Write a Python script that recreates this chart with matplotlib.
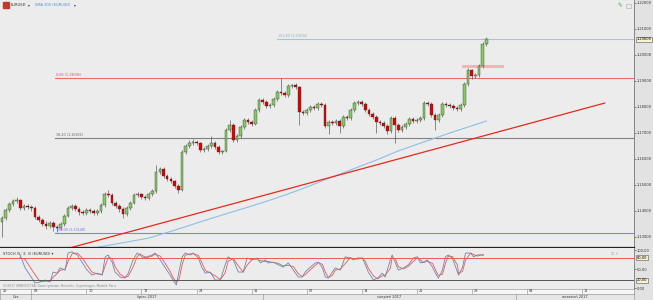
import matplotlib.pyplot as plt

# EURUSD, candles (3 per trading day), from 28 Jun 2017
first_open = 1.1358
closes = [1.1373, 1.1404, 1.1427, 1.1438, 1.1442, 1.1412, 1.1419, 1.1415, 1.1412, 1.1377,
          1.1365, 1.1350, 1.1342, 1.1354, 1.1338, 1.1335, 1.1350, 1.1381, 1.1412, 1.1419,
          1.1408, 1.1396, 1.1392, 1.1404, 1.1400, 1.1392, 1.1400, 1.1423, 1.1465, 1.1462,
          1.1431, 1.1419, 1.1408, 1.1388, 1.1412, 1.1431, 1.1462, 1.1465, 1.1454, 1.1450,
          1.1465, 1.1477, 1.1550, 1.1562, 1.1535, 1.1523, 1.1515, 1.1496, 1.1481, 1.1627,
          1.1650, 1.1661, 1.1665, 1.1661, 1.1635, 1.1638, 1.1650, 1.1661, 1.1646, 1.1627,
          1.1631, 1.1712, 1.1731, 1.1673, 1.1688, 1.1723, 1.1750, 1.1742, 1.1735, 1.1788,
          1.1827, 1.1819, 1.1804, 1.1808, 1.1831, 1.1858, 1.1854, 1.1846, 1.1881, 1.1885,
          1.1877, 1.1781, 1.1777, 1.1788, 1.1800, 1.1796, 1.1812, 1.1808, 1.1727, 1.1742,
          1.1738, 1.1746, 1.1727, 1.1762, 1.1758, 1.1788, 1.1815, 1.1819, 1.1812, 1.1788,
          1.1773, 1.1762, 1.1742, 1.1738, 1.1727, 1.1708, 1.1758, 1.1731, 1.1712, 1.1723,
          1.1735, 1.1754, 1.1746, 1.1750, 1.1758, 1.1815, 1.1812, 1.1769, 1.1750, 1.1769,
          1.1812, 1.1808, 1.1804, 1.1796, 1.1792, 1.1808, 1.1888, 1.1942, 1.1919, 1.1923,
          1.1958, 1.2042, 1.2062]
highs = [1.1380, 1.1412, 1.1436, 1.1447, 1.1452, 1.1448, 1.1428, 1.1426, 1.1423, 1.1418,
         1.1384, 1.1372, 1.1360, 1.1362, 1.1360, 1.1346, 1.1357, 1.1388, 1.1420, 1.1427,
         1.1425, 1.1414, 1.1405, 1.1411, 1.1410, 1.1407, 1.1408, 1.1430, 1.1474, 1.1480,
         1.1468, 1.1438, 1.1426, 1.1414, 1.1420, 1.1438, 1.1470, 1.1474, 1.1471, 1.1461,
         1.1472, 1.1485, 1.1578, 1.1570, 1.1568, 1.1542, 1.1530, 1.1521, 1.1503, 1.1636,
         1.1658, 1.1672, 1.1677, 1.1673, 1.1667, 1.1647, 1.1658, 1.1688, 1.1668, 1.1652,
         1.1636, 1.1720, 1.1750, 1.1738, 1.1697, 1.1731, 1.1759, 1.1758, 1.1749, 1.1796,
         1.1836, 1.1835, 1.1826, 1.1816, 1.1839, 1.1866, 1.1912, 1.1862, 1.1889, 1.1890,
         1.1893, 1.1882, 1.1789, 1.1796, 1.1808, 1.1807, 1.1820, 1.1819, 1.1814, 1.1750,
         1.1751, 1.1754, 1.1752, 1.1770, 1.1771, 1.1796, 1.1824, 1.1828, 1.1826, 1.1818,
         1.1795, 1.1780, 1.1768, 1.1750, 1.1745, 1.1733, 1.1766, 1.1764, 1.1737, 1.1731,
         1.1742, 1.1762, 1.1761, 1.1758, 1.1766, 1.1823, 1.1824, 1.1818, 1.1775, 1.1777,
         1.1820, 1.1820, 1.1815, 1.1810, 1.1803, 1.1816, 1.1897, 1.1951, 1.1948, 1.1932,
         1.1965, 1.2050, 1.2070]
lows = [1.1300, 1.1366, 1.1398, 1.1420, 1.1430, 1.1405, 1.1404, 1.1407, 1.1401, 1.1370,
        1.1356, 1.1343, 1.1331, 1.1335, 1.1322, 1.1318, 1.1328, 1.1344, 1.1376, 1.1405,
        1.1401, 1.1386, 1.1384, 1.1386, 1.1393, 1.1384, 1.1385, 1.1394, 1.1417, 1.1452,
        1.1424, 1.1410, 1.1398, 1.1372, 1.1381, 1.1405, 1.1425, 1.1454, 1.1446, 1.1441,
        1.1444, 1.1458, 1.1470, 1.1542, 1.1528, 1.1515, 1.1506, 1.1488, 1.1470, 1.1476,
        1.1618, 1.1643, 1.1653, 1.1652, 1.1626, 1.1627, 1.1631, 1.1644, 1.1638, 1.1619,
        1.1618, 1.1625, 1.1705, 1.1665, 1.1664, 1.1681, 1.1716, 1.1733, 1.1726, 1.1729,
        1.1781, 1.1811, 1.1796, 1.1797, 1.1801, 1.1824, 1.1846, 1.1838, 1.1840, 1.1872,
        1.1869, 1.1730, 1.1768, 1.1770, 1.1781, 1.1788, 1.1789, 1.1800, 1.1719, 1.1696,
        1.1730, 1.1731, 1.1700, 1.1720, 1.1750, 1.1751, 1.1782, 1.1808, 1.1804, 1.1780,
        1.1765, 1.1754, 1.1700, 1.1730, 1.1719, 1.1698, 1.1700, 1.1662, 1.1703, 1.1705,
        1.1716, 1.1728, 1.1738, 1.1739, 1.1743, 1.1751, 1.1804, 1.1761, 1.1712, 1.1743,
        1.1762, 1.1800, 1.1796, 1.1788, 1.1784, 1.1785, 1.1801, 1.1881, 1.1908, 1.1910,
        1.1915, 1.1950, 1.2035]

# SMA 200 read at some candle positions
sma_idx = [25, 33, 40, 47, 54, 61, 68, 75, 81, 88, 95, 102, 108, 115, 122, 127, 132]
sma_val = [1.1258, 1.1278, 1.1296, 1.1326, 1.1358, 1.1389, 1.1419, 1.1451, 1.1481,
           1.1520, 1.1558, 1.1596, 1.1631, 1.1666, 1.1700, 1.1723, 1.1746]

# trend line (two anchor points)
trend_idx = [18.5, 164.2]
trend_val = [1.1258, 1.1815]

fib_labels = ['161,80 (1,20604)', '0,00 (1,19096)', '38,20 (1,16821)', '100,00 (1,13140)']
fib_values = [1.20604, 1.19096, 1.16821, 1.13140]
fib_colors = ['#a9c3d3', '#a9bfe0', '#808080', '#8080ee']
fib_text_colors = ['#8fb0c4', '#e05050', '#666666', '#6c6cee']
fib_start = [75, 14.5, 14.5, 14.5]
resist_value = 1.1912
zone_idx = [125.4, 136.9]
zone_val = [1.1950, 1.1961]
last_price = 1.20600

price_ticks = [1.13, 1.14, 1.15, 1.16, 1.17, 1.18, 1.19, 1.20, 1.21, 1.22]

# Stochastic (5;3;3)
stoch_idx = [4.9, 6.3, 9.0, 10.4, 11.7, 13.1, 13.9, 15.0, 15.8, 17.2,
             18.0, 19.1, 20.5, 21.8, 23.2, 24.5, 25.9, 27.3, 28.1, 28.9,
             30.0, 30.8, 32.2, 33.5, 34.4, 35.7, 36.8, 37.6, 38.5, 39.5,
             40.9, 41.7, 43.1, 44.5, 45.8, 46.6, 47.5, 48.3, 49.1, 49.9,
             51.3, 52.1, 53.5, 54.5, 55.4, 56.7, 58.1, 59.5, 60.8, 61.6,
             63.0, 64.4, 65.7, 66.8, 68.2, 69.5, 70.4, 71.7, 72.5, 73.9,
             75.3, 76.6, 78.0, 79.4, 80.7, 81.8, 82.6, 84.0, 85.4, 86.2,
             87.3, 88.1, 88.9, 90.0, 90.8, 92.2, 93.5, 94.9, 95.7, 96.8,
             98.2, 99.0, 99.8, 101.2, 102.3, 103.6, 104.4, 105.8, 106.3, 107.2,
             108.0, 109.4, 110.7, 112.1, 113.2, 114.0, 114.8, 115.9, 117.3, 118.1,
             118.9, 120.0, 120.8, 121.6, 122.7, 124.1, 124.4, 125.5, 126.3, 127.7,
             128.5, 129.5, 130.4, 131.2]
stoch_k = [87, 53, 13, 16, 21, 16, 42, 39, 53, 47, 92, 95, 87, 68, 47, 34, 39, 34, 82, 87,
           68, 42, 29, 26, 39, 74, 92, 87, 79, 82, 87, 92, 74, 53, 34, 21, 8, 47, 82, 92,
           87, 92, 79, 53, 39, 42, 21, 21, 61, 82, 74, 42, 42, 79, 74, 79, 66, 74, 66, 68,
           61, 55, 66, 47, 29, 29, 42, 55, 66, 68, 53, 29, 26, 42, 53, 47, 82, 79, 74, 79,
           79, 61, 42, 21, 26, 39, 29, 74, 87, 66, 47, 53, 61, 79, 82, 66, 68, 74, 55, 39,
           26, 47, 82, 87, 79, 42, 34, 55, 92, 92, 82, 87, 87, 87]
stoch_d = [80, 75, 35, 17, 18, 18, 28, 38, 46, 50, 70, 90, 92, 80, 60, 42, 37, 36, 58, 80,
           78, 56, 36, 28, 31, 55, 82, 90, 84, 80, 84, 89, 84, 64, 44, 28, 15, 25, 62, 86,
           90, 90, 86, 66, 46, 40, 32, 22, 40, 70, 78, 58, 42, 60, 76, 76, 72, 70, 70, 67,
           65, 58, 60, 56, 38, 30, 35, 48, 60, 67, 62, 42, 28, 33, 47, 50, 64, 80, 77, 76,
           79, 70, 52, 32, 24, 32, 34, 52, 80, 76, 56, 50, 57, 70, 80, 74, 67, 70, 65, 48,
           33, 36, 64, 84, 83, 60, 38, 44, 74, 92, 88, 84, 87, 87]
stoch_ticks = [0, 50, 100]
stoch_levels = [80, 20]

week_idx = [8, 23, 38, 53, 68, 83, 98, 113, 128, 143, 158]
week_labels = ['03', '10', '17', '24', '31', '07', '14', '21', '28', '04', '11']
month_edges = [8, 71, 140]
month_labels = ['Cze', 'lipiec 2017', 'sierpień 2017', 'wrzesień 2017']

XMIN, XMAX = -0.55, 172.2
YMIN, YMAX = 1.12615, 1.22115
BG = '#ececec'
fs = 2.6

fig = plt.figure(figsize=(6.53, 3.0), dpi=100, facecolor='#e2e2e2')
W = 634 / 653
ax = fig.add_axes([0, 53 / 300, W, 247 / 300], facecolor=BG)
osc = fig.add_axes([0, 11 / 300, W, 41 / 300], facecolor=BG)
drow = fig.add_axes([0, 6 / 300, W, 5 / 300], facecolor='#f6f6f6')
mrow = fig.add_axes([0, 0, W, 6 / 300], facecolor='#e6e6e6')

# candles
opens = [first_open] + closes[:-1]
for i, (o, h, l, c) in enumerate(zip(opens, highs, lows, closes)):
    col = '#86c963' if c >= o else '#e30000'
    ax.vlines(i, l, h, color='#505050', lw=0.45, zorder=3)
    ax.bar(i, max(abs(c - o), 0.00012), bottom=min(o, c), width=0.72,
           color=col, edgecolor='#2a2a2a', linewidth=0.25, zorder=4)

ax.plot(sma_idx, sma_val, color='#8cc0e6', lw=0.8, zorder=2)
ax.plot(trend_idx, trend_val, color='#e8291c', lw=0.9, zorder=2)

for lab, v, c, tc, x0 in zip(fib_labels, fib_values, fib_colors, fib_text_colors, fib_start):
    ax.plot([x0, XMAX], [v, v], color=c, lw=0.8, zorder=1)
    ax.text(x0 + 0.3, v + 0.0004, lab, fontsize=2.4, color=tc, va='bottom', ha='left')
ax.plot([14.5, XMAX], [resist_value, resist_value], color='#e66a6a', lw=0.7, zorder=1)
ax.fill_between(zone_idx, zone_val[0], zone_val[1], color='#f0a0a0', alpha=0.7, lw=0, zorder=1)

ax.set_xlim(XMIN, XMAX)
ax.set_ylim(YMIN, YMAX)
ax.yaxis.tick_right()
ax.set_yticks(price_ticks)
ax.set_yticklabels([f'{v:.5f}'.replace('.', ',') for v in price_ticks])
ax.tick_params(axis='y', labelsize=fs, length=1.5, pad=0.6, width=0.4, colors='#333333')
ax.set_xticks([])
for s in ['top', 'left']:
    ax.spines[s].set_visible(False)
ax.spines['right'].set_color('#777777')
ax.spines['right'].set_linewidth(0.6)
ax.spines['bottom'].set_color('#222222')
ax.spines['bottom'].set_linewidth(0.9)
ax.text(1.004, (last_price - YMIN) / (YMAX - YMIN), f'{last_price:.5f}'.replace('.', ','),
        transform=ax.transAxes, fontsize=fs, va='center', ha='left', zorder=6,
        bbox=dict(boxstyle='square,pad=0.2', fc='#f7f3d0', ec='#555555', lw=0.4), clip_on=False)

# legend line at the top
ax.add_patch(plt.Rectangle((0.005, 0.968), 0.009, 0.022, transform=ax.transAxes,
                           color='#c0392b', zorder=6))
ax.text(0.016, 0.979, 'EURUSD', transform=ax.transAxes, fontsize=2.6, va='center', color='#333333')
ax.text(0.044, 0.979, '▾', transform=ax.transAxes, fontsize=2.6, va='center', color='#333333')
ax.text(0.055, 0.979, 'SMA 200 (EURUSD)', transform=ax.transAxes, fontsize=2.6, va='center',
        color='#4a90d9')
ax.text(0.116, 0.979, '▾', transform=ax.transAxes, fontsize=2.6, va='center', color='#333333')
ax.text(0.982, 0.975, '✎', transform=ax.transAxes, fontsize=4, va='center', ha='right',
        color='#3aa03a')
ax.add_patch(plt.Rectangle((0.987, 0.968), 0.008, 0.016, transform=ax.transAxes,
                           fc='none', ec='#aaaaaa', lw=0.4, zorder=6))

# stochastic panel
osc.plot(stoch_idx, stoch_d, color='#ee5555', lw=0.6)
osc.plot(stoch_idx, stoch_k, color='#6f86a8', lw=0.6)
osc.axhline(stoch_levels[0], color='#e85a5a', lw=0.7)
osc.axhline(stoch_levels[1], color='#555555', lw=0.7)
osc.set_xlim(XMIN, XMAX)
osc.set_ylim(-2.6, 105.3)
osc.yaxis.tick_right()
osc.set_yticks(stoch_ticks)
osc.set_yticklabels([f'{v:.2f}'.replace('.', ',') for v in stoch_ticks])
osc.tick_params(axis='y', labelsize=fs, length=1.5, pad=0.6, width=0.4, colors='#333333')
osc.set_xticks([])
for s in ['top', 'left', 'bottom']:
    osc.spines[s].set_visible(False)
osc.spines['right'].set_color('#777777')
osc.spines['right'].set_linewidth(0.6)
for v in stoch_levels:
    osc.text(1.004, (v + 2.6) / 107.9, f'{v:.2f}'.replace('.', ','), transform=osc.transAxes,
             fontsize=fs, va='center', ha='left',
             bbox=dict(boxstyle='square,pad=0.2', fc='#f7f3d0', ec='#555555', lw=0.4),
             clip_on=False)
osc.text(0.005, 0.86, 'STOCH (5; 3; 3) (EURUSD) ▾', transform=osc.transAxes, fontsize=2.6,
         va='center', color='#333333')
osc.text(0.005, 0.03, '(C)2017 ORBEX/ICTXA, Dane rynkowe: Brussels, Copenhagen, Madrid, Paris',
         transform=osc.transAxes, fontsize=2.2, va='bottom', color='#888888')
osc.text(0.975, 0.86, '⊡ ✕', transform=osc.transAxes, fontsize=2.6, va='center',
         ha='right', color='#aaaaaa')

# date rows
for a in (drow, mrow):
    a.set_xlim(XMIN, XMAX)
    a.set_ylim(0, 1)
    a.set_xticks([])
    a.set_yticks([])
    for s in a.spines.values():
        s.set_color('#8a8a8a')
        s.set_linewidth(0.4)
drow.text(0.3, 0.5, '26', fontsize=2.5, va='center', color='#333333')
for x, lab in zip(week_idx, week_labels):
    drow.axvline(x, color='#8a8a8a', lw=0.4)
    drow.text(x + 0.6, 0.5, lab, fontsize=2.5, va='center', color='#333333')
edges = [XMIN] + month_edges + [XMAX]
for k, lab in enumerate(month_labels):
    if k > 0:
        mrow.axvline(edges[k], color='#8a8a8a', lw=0.4)
    mrow.text((edges[k] + edges[k + 1]) / 2, 0.5, lab, fontsize=2.5, va='center',
              ha='center', color='#333333')

fig.savefig('out.png', dpi=100, facecolor=fig.get_facecolor())
